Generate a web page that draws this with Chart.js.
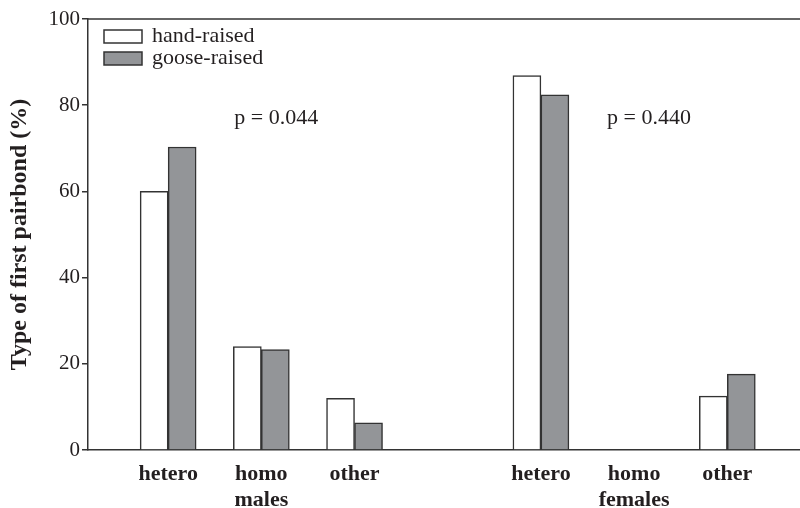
<!DOCTYPE html>
<html>
<head>
<meta charset="utf-8">
<script src="https://cdn.jsdelivr.net/npm/chart.js@4.4.1/dist/chart.umd.min.js"></script>
<style>
  html, body { margin: 0; padding: 0; background: #fff; }
  canvas { display: block; }
</style>
</head>
<body>
<canvas id="pairbondChart" width="800" height="508"></canvas>
<script>
const categories = ['hetero', 'homo', 'other'];
const groups = ['males', 'females'];
const handRaised = [60.0, 24.0, 12.0, 86.9, 0, 12.5];
const gooseRaised = [70.3, 23.3, 6.3, 82.4, 0, 17.6];
const pValues = ['p = 0.044', 'p = 0.440'];
const yTicks = [0, 20, 40, 60, 80, 100];

const ink = '#231f20';
const serif = "'Liberation Serif', 'DejaVu Serif', serif";

// one slot per category, with an empty slot between the two groups
const xPos = groups.flatMap((g, gi) =>
  categories.map((c, ci) => gi * (categories.length + 1) + ci + 1));

const points = values => values.map((v, i) => ({ x: xPos[i], y: v }));

// legend drawn inside the plot, top left
const insideLegend = {
  id: 'insideLegend',
  afterDraw(chart) {
    const ctx = chart.ctx;
    ctx.save();
    ctx.font = '22px ' + serif;
    ctx.textBaseline = 'middle';
    chart.data.datasets.forEach((ds, i) => {
      const y = 30 + i * 22;
      ctx.fillStyle = ds.backgroundColor;
      ctx.fillRect(104, y, 38, 13);
      ctx.strokeStyle = ds.borderColor;
      ctx.lineWidth = 1.5;
      ctx.strokeRect(104, y, 38, 13);
      ctx.fillStyle = ink;
      ctx.fillText(ds.label, 152, y + 6);
    });
    ctx.restore();
  }
};

// top frame line and the p-value notes
const extras = {
  id: 'extras',
  afterDraw(chart) {
    const { ctx, chartArea, scales } = chart;
    ctx.save();
    ctx.strokeStyle = '#333';
    ctx.lineWidth = 1.5;
    ctx.beginPath();
    ctx.moveTo(chartArea.left, chartArea.top);
    ctx.lineTo(chartArea.right, chartArea.top);
    ctx.stroke();

    ctx.font = '22px ' + serif;
    ctx.fillStyle = ink;
    ctx.textAlign = 'center';
    ctx.textBaseline = 'middle';
    pValues.forEach((p, gi) => {
      const mid = xPos[gi * categories.length + 1];
      ctx.fillText(p, scales.x.getPixelForValue(mid + 0.16), scales.y.getPixelForValue(77));
    });
    ctx.restore();
  }
};

new Chart(document.getElementById('pairbondChart'), {
  type: 'bar',
  data: {
    datasets: [{
      label: 'hand-raised',
      data: points(handRaised),
      backgroundColor: '#ffffff',
      borderColor: '#333333',
      borderWidth: 1.5
    }, {
      label: 'goose-raised',
      data: points(gooseRaised),
      backgroundColor: '#939598',
      borderColor: '#333333',
      borderWidth: 1.5
    }]
  },
  options: {
    responsive: false,
    animation: false,
    barThickness: 28,
    layout: { padding: { top: 19, right: 0, left: 0, bottom: 0 } },
    plugins: {
      legend: { display: false },
      tooltip: { enabled: false }
    },
    scales: {
      x: {
        type: 'linear',
        offset: false,
        min: 0.14,
        max: 7.78,
        afterBuildTicks(scale) {
          scale.ticks = xPos.map(v => ({ value: v }));
        },
        afterFit(scale) { scale.height = 58; },
        grid: { display: false, offset: false },
        border: { display: true, color: '#333', width: 1.5 },
        ticks: {
          autoSkip: false,
          maxRotation: 0,
          padding: 3,
          color: ink,
          font: { family: serif, size: 22, weight: 'bold', lineHeight: 1.2 },
          callback(value) {
            const i = xPos.indexOf(value);
            if (i < 0) return '';
            const ci = i % categories.length;
            const gi = Math.floor(i / categories.length);
            return ci === 1 ? [categories[ci], groups[gi]] : categories[ci];
          }
        }
      },
      y: {
        min: 0,
        max: 100,
        afterBuildTicks(scale) {
          scale.ticks = yTicks.map(v => ({ value: v }));
        },
        afterFit(scale) { scale.width = 88; },
        grid: { drawOnChartArea: false, drawTicks: true, tickLength: 6, color: '#333', lineWidth: 1.5 },
        border: { display: true, color: '#333', width: 1.5 },
        ticks: {
          padding: 2,
          color: ink,
          font: { family: serif, size: 21 }
        },
        title: {
          display: true,
          text: 'Type of first pairbond (%)',
          color: ink,
          padding: { top: 5, bottom: 0 },
          font: { family: serif, size: 24, weight: 'bold' }
        }
      }
    }
  },
  plugins: [insideLegend, extras]
});
</script>
</body>
</html>
